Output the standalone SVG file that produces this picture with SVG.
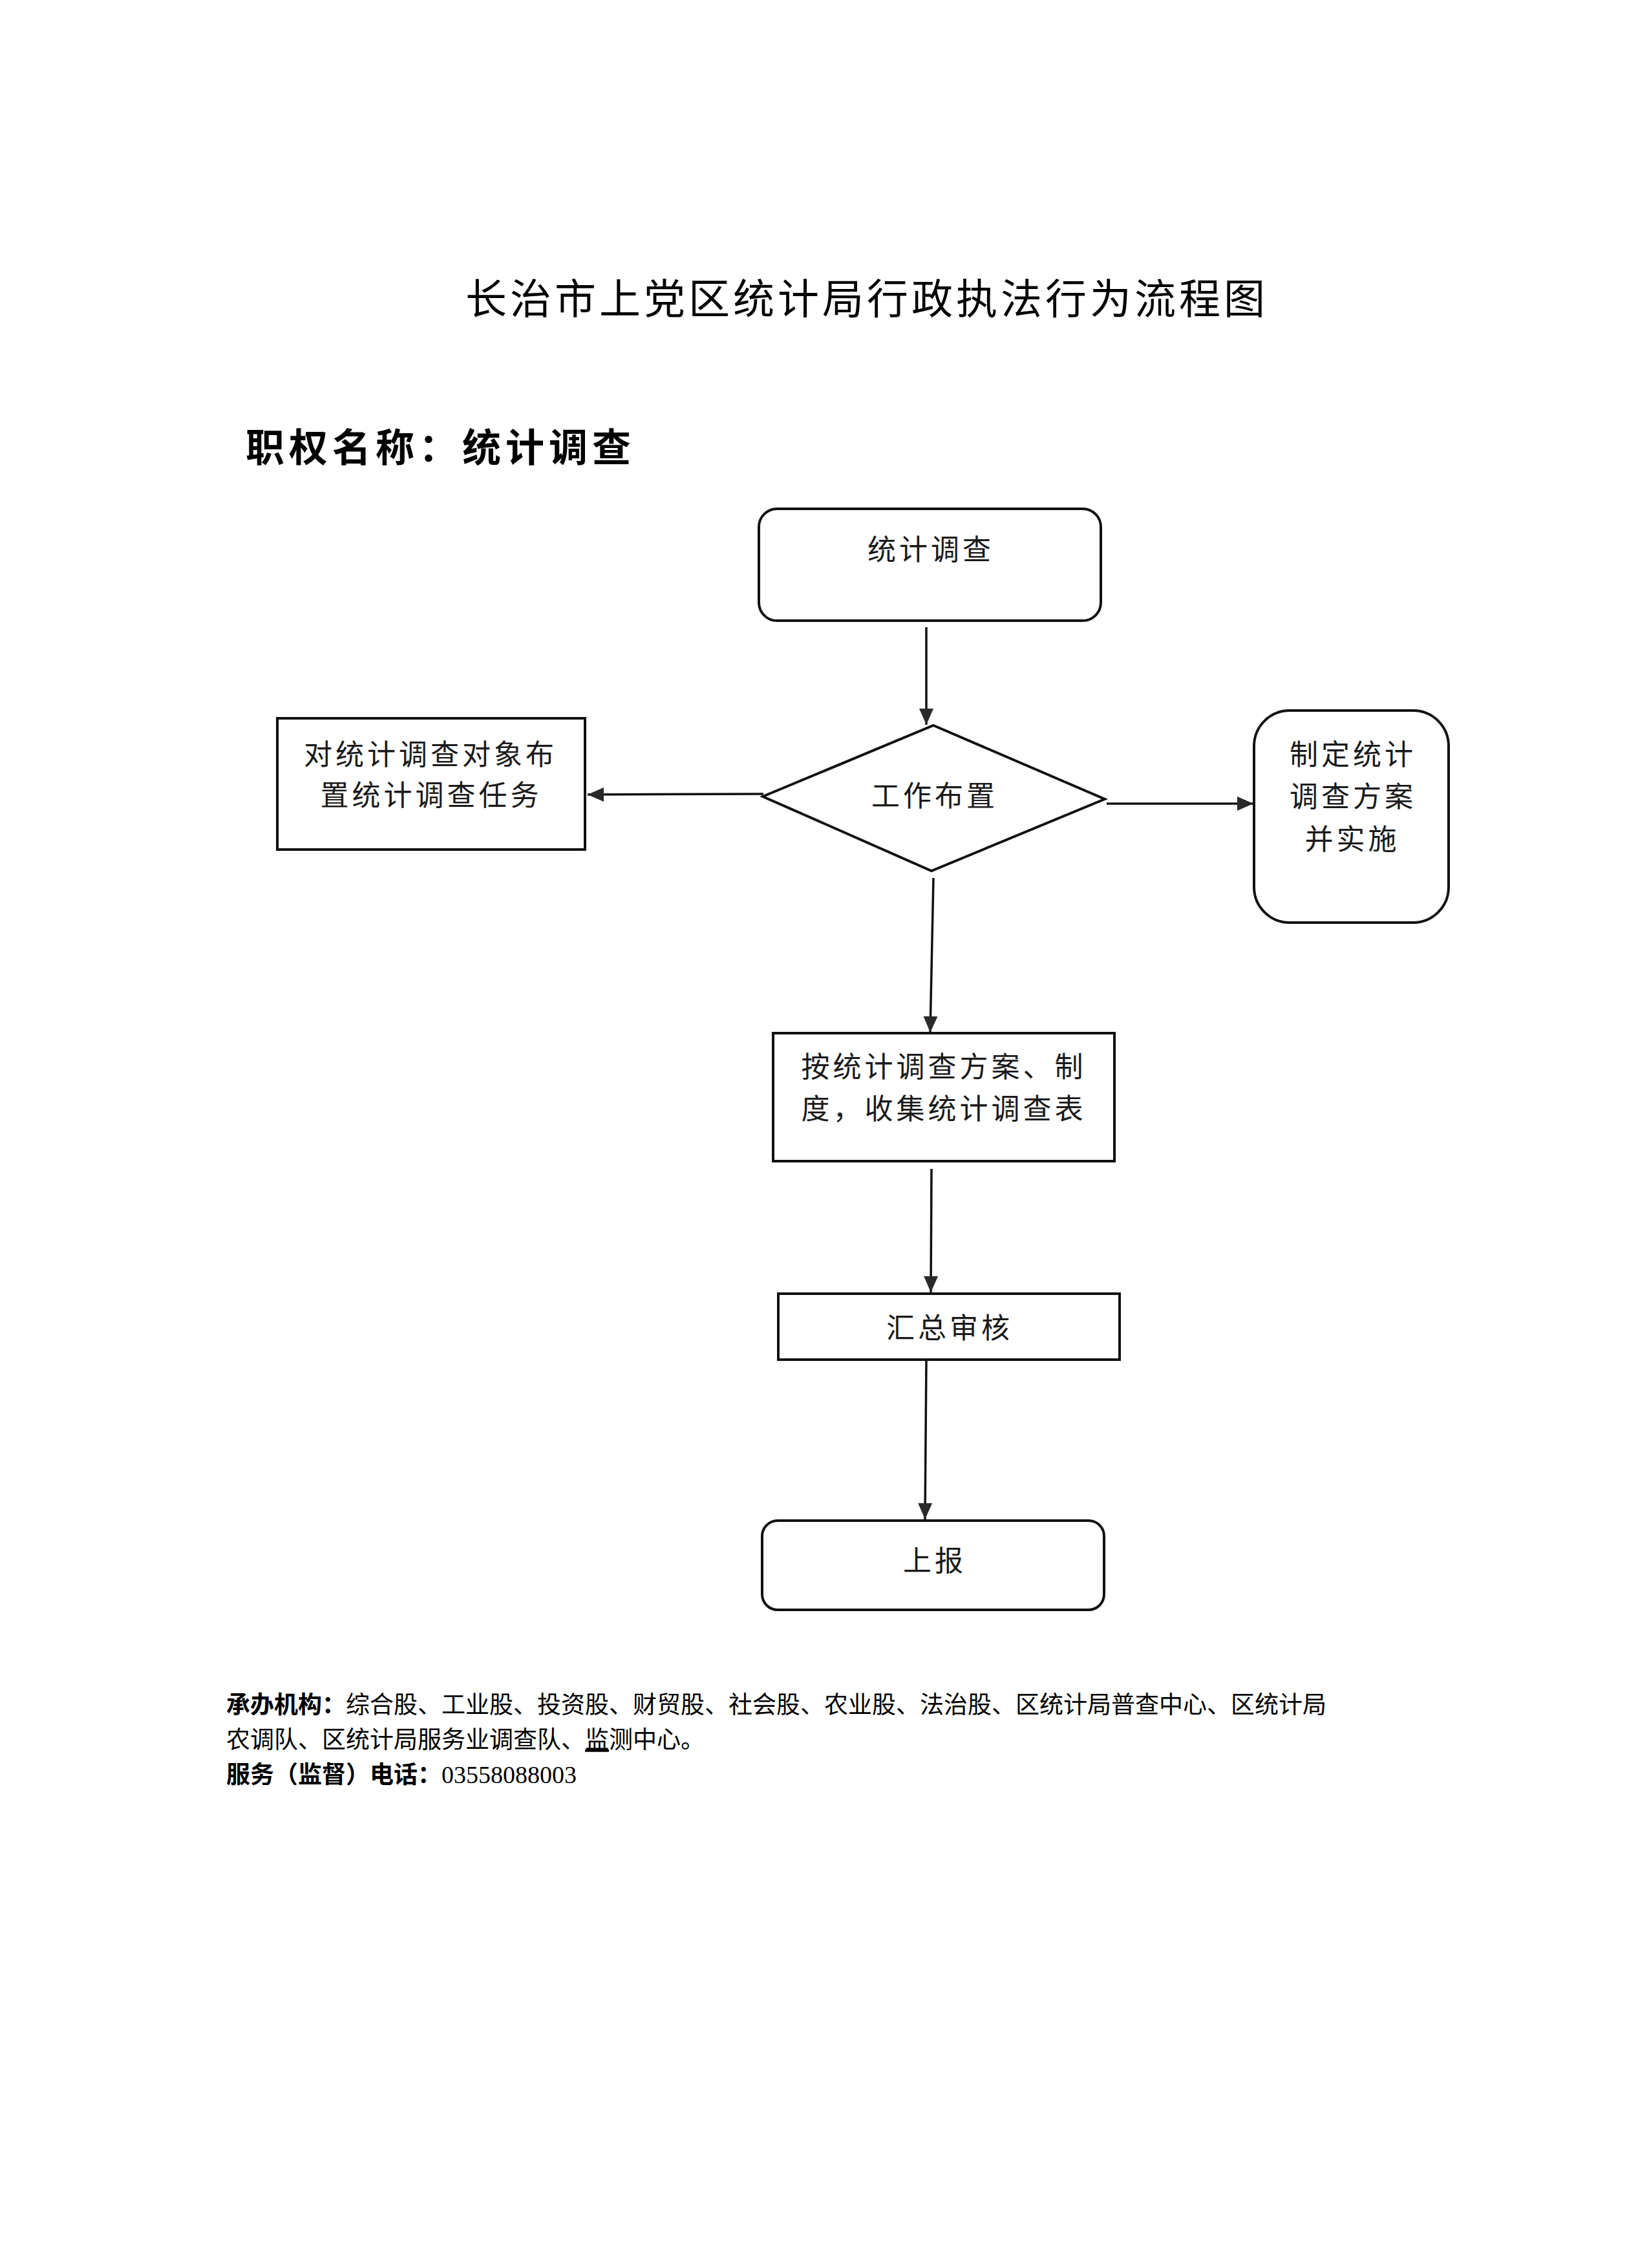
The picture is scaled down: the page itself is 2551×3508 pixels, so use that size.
<svg xmlns="http://www.w3.org/2000/svg" width="2551" height="3508" viewBox="0 0 2551 3508">
<style>
.bg{fill:#ffffff}
.shape{fill:#ffffff;stroke:#111111;stroke-width:4}
.conn{fill:none;stroke:#111111;stroke-width:3.5}
.ntext{font-family:"Noto Sans CJK SC","Noto Sans",sans-serif;font-size:44px;letter-spacing:5px;fill:#1a1a1a;text-anchor:middle}
.title{font-family:"Noto Sans CJK SC",sans-serif;font-size:64px;letter-spacing:5px;fill:#000000}
.sub{font-family:"Noto Sans CJK SC",sans-serif;font-size:60px;letter-spacing:7px;font-weight:bold;fill:#000000}
.foot{font-family:"Noto Sans CJK SC",sans-serif;font-size:37px;fill:#000000}
.b{font-weight:bold}
.num{font-family:"Liberation Serif",serif;font-size:38px}
</style>
<defs>
<marker id="arrow" markerUnits="userSpaceOnUse" markerWidth="26" markerHeight="24" viewBox="0 0 26 24" refX="25" refY="12" orient="auto">
<path d="M0,1 L25,12 L0,23 Z" fill="#2a2a2a"/>
</marker>
</defs>
<rect class="bg" x="0" y="0" width="2551" height="3508"/>

<text class="title" x="720" y="485">长治市上党区统计局行政执法行为流程图</text>
<text class="sub" x="380" y="714">职权名称：统计调查</text>

<g id="connectors">
<line class="conn" x1="1433" y1="970" x2="1433" y2="1121" marker-end="url(#arrow)"/>
<line class="conn" x1="1181" y1="1228" x2="909" y2="1229" marker-end="url(#arrow)"/>
<line class="conn" x1="1712" y1="1243" x2="1939" y2="1243" marker-end="url(#arrow)"/>
<line class="conn" x1="1444" y1="1358" x2="1439" y2="1597" marker-end="url(#arrow)"/>
<line class="conn" x1="1441" y1="1808" x2="1440" y2="1999" marker-end="url(#arrow)"/>
<line class="conn" x1="1433" y1="2104" x2="1431" y2="2350" marker-end="url(#arrow)"/>
</g>

<g id="node-start">
<rect class="shape" x="1174" y="787" width="529" height="173" rx="28" ry="28"/>
<text class="ntext" x="1440" y="866">统计调查</text>
</g>

<g id="node-decision">
<polygon class="shape" points="1444,1122 1709,1236 1441,1347 1180,1232"/>
<text class="ntext" x="1446" y="1247">工作布置</text>
</g>

<g id="node-left">
<rect class="shape" x="429" y="1111" width="476" height="203"/>
<text class="ntext" x="666" y="1183">对统计调查对象布</text>
<text class="ntext" x="667" y="1246">置统计调查任务</text>
</g>

<g id="node-right">
<rect class="shape" x="1940" y="1099" width="301" height="328" rx="55" ry="55"/>
<text class="ntext" x="2093" y="1183">制定统计</text>
<text class="ntext" x="2093" y="1248">调查方案</text>
<text class="ntext" x="2092" y="1314">并实施</text>
</g>

<g id="node-collect">
<rect class="shape" x="1196" y="1598" width="528" height="198"/>
<text class="ntext" x="1460" y="1666">按统计调查方案、制</text>
<text class="ntext" x="1460" y="1731">度，收集统计调查表</text>
</g>

<g id="node-review">
<rect class="shape" x="1204" y="2001" width="528" height="102"/>
<text class="ntext" x="1469" y="2070">汇总审核</text>
</g>

<g id="node-report">
<rect class="shape" x="1179" y="2352" width="529" height="138" rx="24" ry="24"/>
<text class="ntext" x="1446" y="2430">上报</text>
</g>

<g id="footer">
<text class="foot" x="350" y="2650"><tspan class="b">承办机构：</tspan>综合股、工业股、投资股、财贸股、社会股、农业股、法治股、区统计局普查中心、区统计局</text>
<text class="foot" x="350" y="2704">农调队、区统计局服务业调查队、<tspan text-decoration="underline">监</tspan>测中心。</text>
<text class="foot" x="350" y="2758"><tspan class="b">服务（监督）电话：</tspan><tspan class="num">03558088003</tspan></text>
</g>
</svg>
